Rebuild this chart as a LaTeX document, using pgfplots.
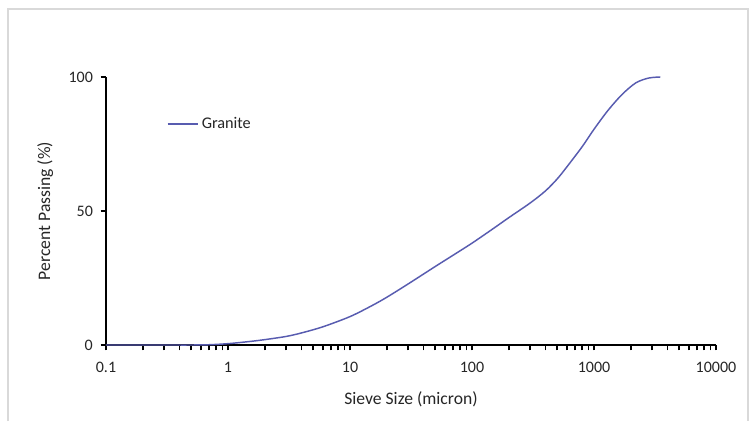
\documentclass[border=0pt]{standalone}
\usepackage{pgfplots}
\pgfplotsset{compat=1.18}
\usepackage{fontspec}
\setmainfont{Carlito}
\definecolor{curve}{RGB}{88,92,176}
\begin{document}
\fontsize{11}{13}\selectfont
\begin{tikzpicture}
\fill[white] (0pt,0pt) rectangle (561.75pt,315.75pt);
\draw[black!15,line width=0.8pt] (6pt,0pt) -- (6pt,309pt) -- (561pt,309pt) -- (561pt,0pt);
\begin{axis}[
  at={(79.5pt,57pt)}, anchor=south west,
  scale only axis, width=457.5pt, height=201pt,
  xmode=log, xmin=0.1, xmax=10000, ymin=0, ymax=100,
  axis x line*=bottom, axis y line*=left,
  axis line style={line width=1.6pt},
  xtick={0.1,1,10,100,1000,10000},
  xticklabels={0.1,1,10,100,1000,10000},
  minor xtick={0.2,0.3,0.4,0.5,0.6,0.7,0.8,0.9,2,3,4,5,6,7,8,9,20,30,40,50,60,70,80,90,200,300,400,500,600,700,800,900,2000,3000,4000,5000,6000,7000,8000,9000},
  ytick={0,50,100},
  tick style={black, line width=1.3pt},
  major tick length=4pt, minor tick length=4pt,
  tick align=outside,
  tick label style={font=\fontsize{12}{14}\selectfont, text=black!85},
  /pgf/number format/assume math mode=true,
  xticklabel style={yshift=-5pt},
  yticklabel style={xshift=-2pt},
  xlabel={Sieve Size (micron)},
  ylabel={Percent Passing (\%)},
  label style={font=\fontsize{13.2}{15}\selectfont, text=black!85},
  xlabel style={yshift=-7pt},
  ylabel style={yshift=4pt},
  clip=false,
  legend style={at={(0.093,0.825)}, anchor=west, draw=none, fill=none,
    font=\fontsize{12.2}{14}\selectfont, text=black!85},
  legend cell align=left,
  legend image code/.code={\draw[#1] (0pt,0pt) -- (23pt,0pt);},
]
\addplot[curve, line width=1.1pt, smooth, tension=0.5] coordinates {
(0.1,0) (0.3,0) (0.5,0) (0.7,0.1) (1,0.5) (1.5,1.3) (2,2.0) (3,3.2) (4,4.5)
(6,6.8) (10,10.6) (15,14.6) (20,17.8) (30,22.8) (50,29.3) (70,33.5) (100,38)
(150,43.5) (200,47.5) (300,53) (400,57.5) (500,62) (600,66.5) (800,74) (1000,80.5)
(1300,87.5) (1700,93.5) (2200,97.8) (2800,99.6) (3500,100)
};
\addlegendentry{Granite}
\end{axis}
\end{tikzpicture}
\end{document}
